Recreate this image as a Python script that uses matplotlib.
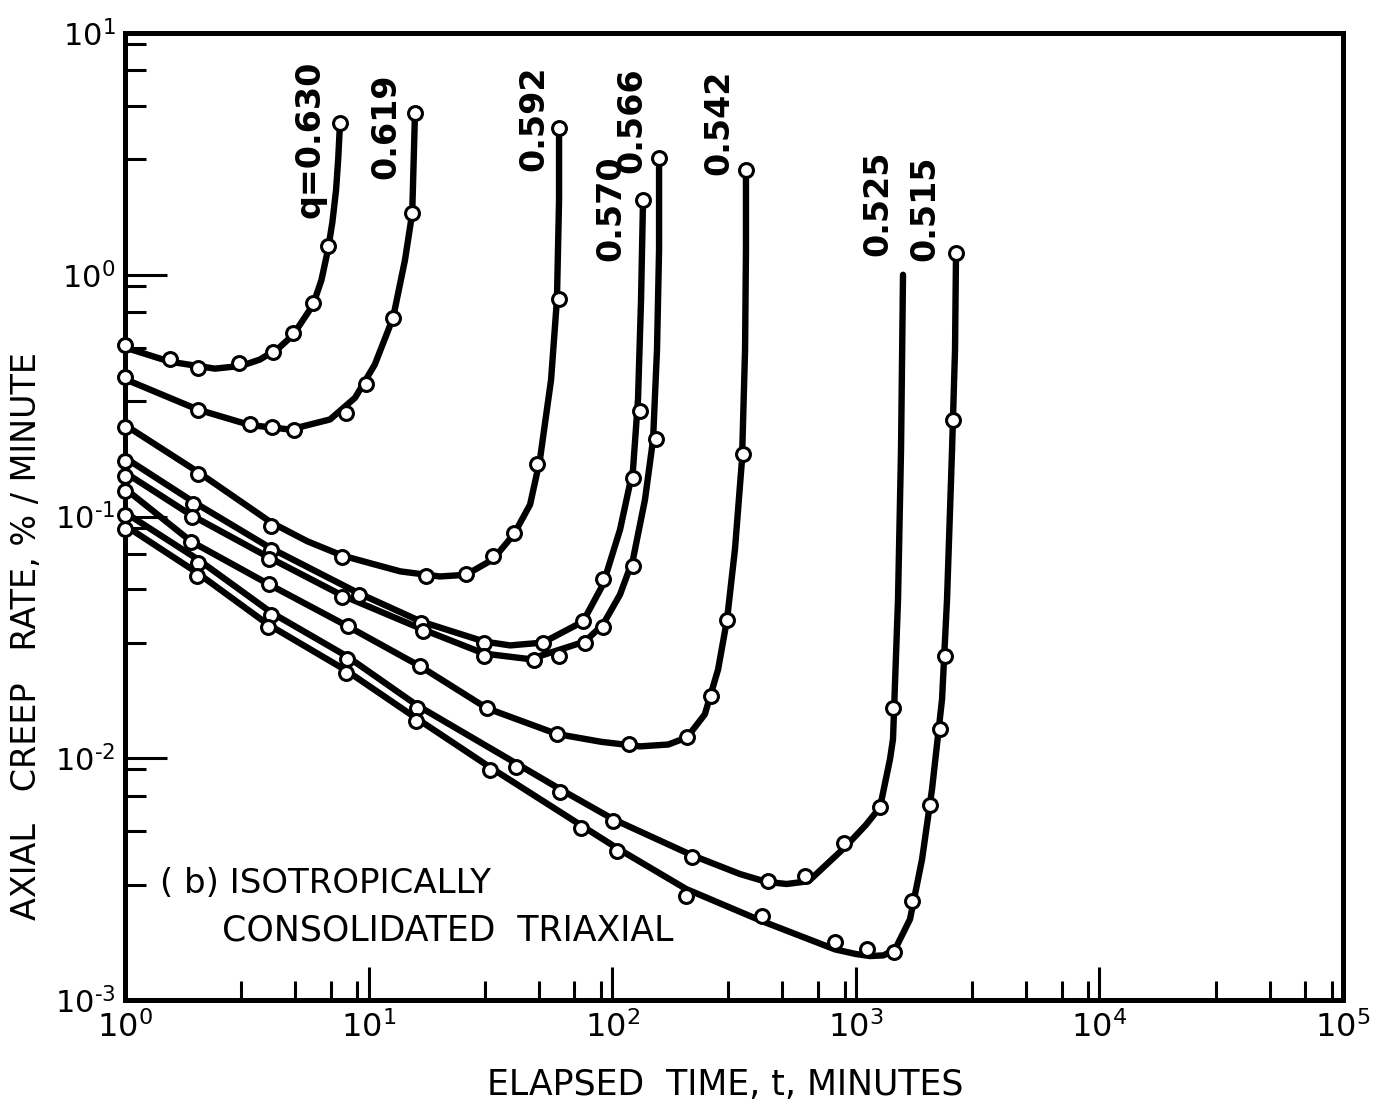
import numpy as np
import matplotlib
matplotlib.use('Agg')
import matplotlib.pyplot as plt
from matplotlib.ticker import LogLocator, NullFormatter, FixedLocator

############# Data #############
# t = elapsed time (minutes), r = axial creep rate (%/minute)
# "pt" arrays are the measured points, "ln" arrays follow the drawn curve

labels = ['q=0.630', '0.619', '0.592', '0.570', '0.566', '0.542', '0.525', '0.515']

pt_t_630 = [1.0, 1.53, 1.99, 2.94, 4.05, 4.90, 5.91, 6.81, 7.63]
pt_r_630 = [0.514, 0.45, 0.413, 0.433, 0.481, 0.576, 0.766, 1.31, 4.25]
ln_t_630 = [1.0, 1.53, 2.34, 3.0, 3.58, 4.3, 4.9, 5.91, 6.4, 6.81, 7.1, 7.35, 7.5, 7.63]
ln_r_630 = [0.50, 0.437, 0.409, 0.42, 0.446, 0.50, 0.564, 0.75, 0.95, 1.27, 1.65, 2.24, 3.0, 4.25]

pt_t_619 = [1.0, 1.99, 3.26, 4.01, 4.94, 8.08, 9.76, 12.6, 15.1, 15.5]
pt_r_619 = [0.379, 0.277, 0.242, 0.2355, 0.229, 0.269, 0.355, 0.664, 1.80, 4.67]
ln_t_619 = [1.0, 1.99, 3.26, 4.76, 6.94, 8.8, 10.6, 12.6, 14.1, 15.1, 15.5]
ln_r_619 = [0.37, 0.277, 0.239, 0.229, 0.252, 0.31, 0.425, 0.664, 1.15, 1.8, 4.67]

pt_t_592 = [1.0, 1.99, 3.98, 7.78, 17.2, 25.1, 32.4, 39.5, 49.1, 60.5, 60.5]
pt_r_592 = [0.2355, 0.1506, 0.0918, 0.0677, 0.0565, 0.0581, 0.0684, 0.0851, 0.1656, 0.796, 4.05]
ln_t_592 = [1.0, 1.99, 3.98, 5.6, 7.78, 10.5, 13.5, 19.6, 25.1, 32.4, 39.5, 46.0, 50.5, 56.1, 59.3, 60.5, 60.5]
ln_r_592 = [0.239, 0.153, 0.0945, 0.079, 0.069, 0.0635, 0.0593, 0.0565, 0.0574, 0.0665, 0.0845, 0.112, 0.172, 0.368, 0.79, 2.04, 4.05]

pt_t_570 = [1.0, 1.90, 3.98, 9.13, 16.4, 29.8, 52.0, 75.9, 91.7, 121.7, 130, 133.8]
pt_r_570 = [0.1703, 0.1132, 0.0724, 0.0472, 0.0361, 0.0301, 0.0301, 0.0368, 0.0554, 0.145, 0.274, 2.04]
ln_t_570 = [1.0, 1.90, 3.98, 9.13, 16.4, 29.8, 38.1, 52.0, 75.9, 91.7, 107.7, 121.7, 127.6, 131.3, 133.8]
ln_r_570 = [0.175, 0.1153, 0.0738, 0.0481, 0.0368, 0.0304, 0.0293, 0.0301, 0.0368, 0.0524, 0.0884, 0.1564, 0.3045, 0.788, 2.04]

pt_t_566 = [1.0, 1.88, 3.90, 7.78, 16.7, 29.8, 47.8, 60.5, 77.3, 91.7, 121.7, 151.3, 155.7]
pt_r_566 = [0.1477, 0.0991, 0.0665, 0.0463, 0.0335, 0.0266, 0.0254, 0.0266, 0.0299, 0.0348, 0.0622, 0.210, 3.05]
ln_t_566 = [1.0, 1.88, 3.90, 7.78, 16.7, 29.8, 46.0, 77.3, 91.7, 107.7, 121.7, 136.3, 147.1, 152.7, 155.7, 155.7]
ln_r_566 = [0.152, 0.101, 0.0677, 0.0472, 0.0341, 0.0271, 0.0257, 0.0304, 0.0358, 0.0476, 0.0665, 0.1175, 0.208, 0.49, 1.27, 3.05]

pt_t_542 = [1.0, 1.87, 3.90, 8.23, 16.3, 30.6, 59.3, 117.2, 202.8, 254.4, 296, 344, 354]
pt_r_542 = [0.128, 0.0788, 0.0524, 0.0351, 0.024, 0.0161, 0.01257, 0.01143, 0.0122, 0.01804, 0.0375, 0.182, 2.72]
ln_t_542 = [1.0, 1.87, 3.90, 8.23, 16.3, 30.6, 59.3, 90, 130, 170, 202.8, 240, 272, 296, 319, 341, 351, 354, 354]
ln_r_542 = [0.1305, 0.0788, 0.0524, 0.0351, 0.024, 0.0161, 0.0126, 0.0117, 0.0112, 0.0114, 0.0122, 0.0152, 0.0233, 0.0375, 0.0731, 0.172, 0.49, 1.27, 2.72]

pt_t_525 = [1.0, 1.99, 3.98, 8.15, 15.8, 40.3, 61.1, 100.8, 212.6, 436, 619, 894, 1257, 1421]
pt_r_525 = [0.101, 0.0645, 0.039, 0.02566, 0.0161, 0.00918, 0.00724, 0.00549, 0.0039, 0.0031, 0.00325, 0.00445, 0.00627, 0.0161]
ln_t_525 = [1.0, 1.99, 3.98, 8.15, 15.8, 40.3, 61.1, 100.8, 212.6, 334.6, 430, 520, 640, 903, 1100, 1257, 1381, 1421, 1490, 1533, 1562]
ln_r_525 = [0.1039, 0.0665, 0.0401, 0.0264, 0.01656, 0.00953, 0.00745, 0.0056, 0.00397, 0.00332, 0.00308, 0.00302, 0.0031, 0.00429, 0.0053, 0.00627, 0.0099, 0.012, 0.0454, 0.189, 1.0]

pt_t_515 = [1.0, 1.97, 3.86, 8.08, 15.7, 31.5, 74.5, 104.6, 201, 412, 821, 1112, 1435, 1701, 2017, 2216, 2324, 2506, 2578]
pt_r_515 = [0.0892, 0.057, 0.0348, 0.02245, 0.01422, 0.00892, 0.00514, 0.00413, 0.00269, 0.00222, 0.00174, 0.00162, 0.00158, 0.00256, 0.0064, 0.01318, 0.0266, 0.2518, 1.233]
ln_t_515 = [1.0, 1.97, 3.86, 8.08, 15.7, 31.5, 74.5, 104.6, 201, 412, 821, 1000, 1144, 1300, 1449, 1669, 1870, 2055, 2259, 2368, 2483, 2554, 2578]
ln_r_515 = [0.0918, 0.0587, 0.0358, 0.0231, 0.01464, 0.00918, 0.00528, 0.00425, 0.00288, 0.00212, 0.00162, 0.00155, 0.00152, 0.00153, 0.00162, 0.00216, 0.00382, 0.00745, 0.01753, 0.0454, 0.189, 0.49, 1.233]

# where the q labels sit (data coords, text centre)
lab_t = [5.75, 11.8, 47.8, 98.9, 120.6, 274, 1234, 1923]
lab_r = [3.65, 4.13, 4.46, 1.89, 4.37, 4.29, 1.97, 1.89]

x_ticks = [1e0, 1e1, 1e2, 1e3, 1e4, 1e5]
y_ticks = [1e-3, 1e-2, 1e-1, 1e0, 1e1]

############# Plot #############

plt.rcParams['font.family'] = 'DejaVu Sans'
plt.rcParams['mathtext.fontset'] = 'dejavusans'

fig = plt.figure(figsize=(13.86, 11.12), dpi=100)
ax = fig.add_axes([0.0902, 0.1007, 0.8788, 0.8696])

curves = [
    (pt_t_630, pt_r_630, ln_t_630, ln_r_630),
    (pt_t_619, pt_r_619, ln_t_619, ln_r_619),
    (pt_t_592, pt_r_592, ln_t_592, ln_r_592),
    (pt_t_570, pt_r_570, ln_t_570, ln_r_570),
    (pt_t_566, pt_r_566, ln_t_566, ln_r_566),
    (pt_t_542, pt_r_542, ln_t_542, ln_r_542),
    (pt_t_525, pt_r_525, ln_t_525, ln_r_525),
    (pt_t_515, pt_r_515, ln_t_515, ln_r_515),
]

for pt_t, pt_r, ln_t, ln_r in curves:
    ax.plot(ln_t, ln_r, '-', color='black', lw=4.6, solid_capstyle='round',
            solid_joinstyle='round', zorder=2)
    ax.plot(pt_t, pt_r, 'o', mfc='white', mec='black', ms=10, mew=2.2, zorder=3, clip_on=False)

for i in range(len(labels)):
    ax.text(lab_t[i], lab_r[i], labels[i], rotation=90, ha='center', va='center',
            fontsize=24, fontweight='bold')

ax.set_xscale('log')
ax.set_yscale('log')
ax.set_xlim(1, 1e5)
ax.set_ylim(1e-3, 1e1)

# short hyphen for the negative exponents, like the hand lettering
def exp_label(v):
    e = int(round(np.log10(v)))
    if e < 0:
        return '$10^{\u2010%d}$' % (-e)
    return '$10^{%d}$' % e

ax.xaxis.set_major_locator(FixedLocator(x_ticks))
ax.yaxis.set_major_locator(FixedLocator(y_ticks))
ax.set_xticklabels([exp_label(v) for v in x_ticks])
ax.set_yticklabels([exp_label(v) for v in y_ticks])
ax.xaxis.set_minor_locator(LogLocator(base=10, subs=[3, 5, 7, 9], numticks=20))
ax.yaxis.set_minor_locator(LogLocator(base=10, subs=[3, 5, 7, 9], numticks=20))
ax.xaxis.set_minor_formatter(NullFormatter())
ax.yaxis.set_minor_formatter(NullFormatter())

ax.tick_params(which='both', direction='in', top=False, right=False, width=2.2, colors='black')
ax.tick_params(axis='x', which='major', length=24, pad=8, labelsize=23)
ax.tick_params(axis='x', which='minor', length=14)
ax.tick_params(axis='y', which='major', length=30, pad=7, labelsize=22)
ax.tick_params(axis='y', which='minor', length=15)

for s in ax.spines.values():
    s.set_linewidth(3.6)

fig.text(0.523, 0.024, 'ELAPSED  TIME, t, MINUTES', ha='center', va='center', fontsize=25)
fig.text(0.019, 0.428, 'AXIAL   CREEP   RATE, % / MINUTE', ha='center', va='center',
         rotation=90, fontsize=24)

ax.text(0.0287, 0.120, '( b) ISOTROPICALLY', transform=ax.transAxes, ha='left', va='center', fontsize=24.5)
ax.text(0.0796, 0.0714, 'CONSOLIDATED  TRIAXIAL', transform=ax.transAxes, ha='left', va='center', fontsize=25)

plt.savefig('out.png', dpi=100)
